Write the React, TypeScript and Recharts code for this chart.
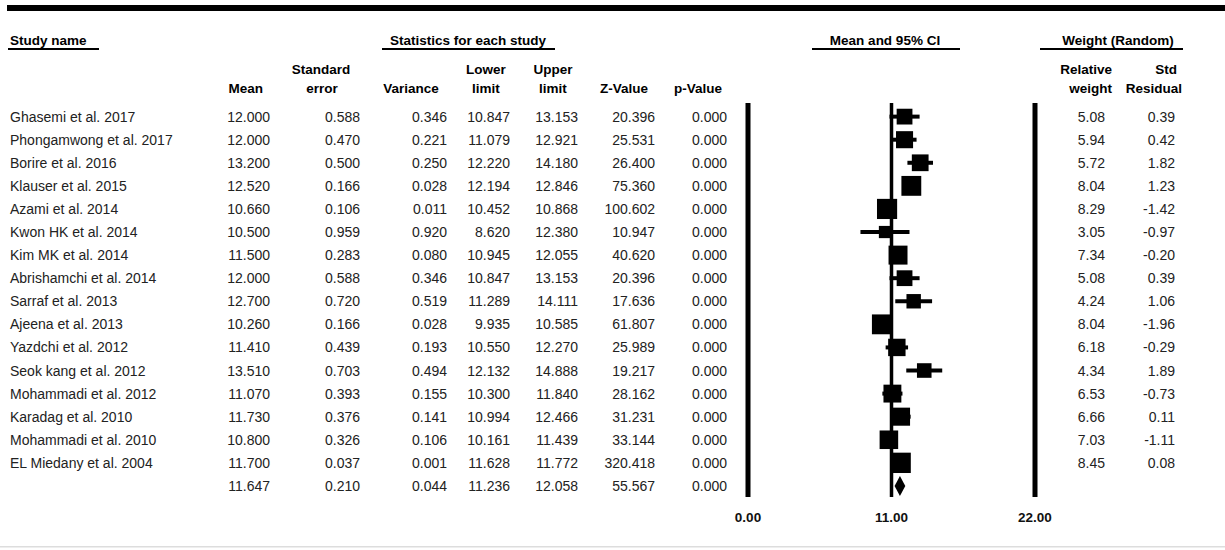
import React from 'react';
import { ComposedChart, Scatter, XAxis, YAxis, ErrorBar, ReferenceLine } from 'recharts';

const studies = [
  'Ghasemi et al. 2017',
  'Phongamwong et al. 2017',
  'Borire et al. 2016',
  'Klauser et al. 2015',
  'Azami et al. 2014',
  'Kwon HK et al. 2014',
  'Kim MK et al. 2014',
  'Abrishamchi et al. 2014',
  'Sarraf et al. 2013',
  'Ajeena et al. 2013',
  'Yazdchi et al. 2012',
  'Seok kang et al. 2012',
  'Mohammadi et al. 2012',
  'Karadag et al. 2010',
  'Mohammadi et al. 2010',
  'EL Miedany et al. 2004',
];
const means = [12.0, 12.0, 13.2, 12.52, 10.66, 10.5, 11.5, 12.0, 12.7, 10.26, 11.41, 13.51, 11.07, 11.73, 10.8, 11.7];
const stdErrors = [0.588, 0.47, 0.5, 0.166, 0.106, 0.959, 0.283, 0.588, 0.72, 0.166, 0.439, 0.703, 0.393, 0.376, 0.326, 0.037];
const variances = [0.346, 0.221, 0.25, 0.028, 0.011, 0.92, 0.08, 0.346, 0.519, 0.028, 0.193, 0.494, 0.155, 0.141, 0.106, 0.001];
const lowerLimits = [10.847, 11.079, 12.22, 12.194, 10.452, 8.62, 10.945, 10.847, 11.289, 9.935, 10.55, 12.132, 10.3, 10.994, 10.161, 11.628];
const upperLimits = [13.153, 12.921, 14.18, 12.846, 10.868, 12.38, 12.055, 13.153, 14.111, 10.585, 12.27, 14.888, 11.84, 12.466, 11.439, 11.772];
const zValues = [20.396, 25.531, 26.4, 75.36, 100.602, 10.947, 40.62, 20.396, 17.636, 61.807, 25.989, 19.217, 28.162, 31.231, 33.144, 320.418];
const pValues = [0, 0, 0, 0, 0, 0, 0, 0, 0, 0, 0, 0, 0, 0, 0, 0];
const relWeights = [5.08, 5.94, 5.72, 8.04, 8.29, 3.05, 7.34, 5.08, 4.24, 8.04, 6.18, 4.34, 6.53, 6.66, 7.03, 8.45];
const stdResiduals = [0.39, 0.42, 1.82, 1.23, -1.42, -0.97, -0.2, 0.39, 1.06, -1.96, -0.29, 1.89, -0.73, 0.11, -1.11, 0.08];

// pooled (random effects) row
const pooledMean = 11.647;
const pooledSE = 0.21;
const pooledVariance = 0.044;
const pooledLower = 11.236;
const pooledUpper = 12.058;
const pooledZ = 55.567;
const pooledP = 0;

const xTicks = [0, 11, 22];

const W = 1225;
const H = 550;
const M = { top: 103, right: 190, bottom: 23, left: 748 };
const X_DOMAIN = [0, 22];
const PX_PER_UNIT = (W - M.left - M.right) / (X_DOMAIN[1] - X_DOMAIN[0]);
const FONT = '"Liberation Sans", Arial, sans-serif';

// right edge of each number column
const colRight = { mean: 270, se: 360, variance: 447, lower: 510, upper: 578, z: 655, p: 727, weight: 1105, resid: 1175 };

const studyRows = studies.map((name, i) => ({
  name,
  row: i,
  mean: means[i],
  se: stdErrors[i],
  variance: variances[i],
  lower: lowerLimits[i],
  upper: upperLimits[i],
  z: zValues[i],
  p: pValues[i],
  weight: relWeights[i],
  resid: stdResiduals[i],
  ci: [means[i] - lowerLimits[i], upperLimits[i] - means[i]],
}));

const pooledRow = [{
  name: '',
  row: studies.length,
  mean: pooledMean,
  se: pooledSE,
  variance: pooledVariance,
  lower: pooledLower,
  upper: pooledUpper,
  z: pooledZ,
  p: pooledP,
}];

const cellStyle = { fontFamily: FONT, fontSize: 14, fill: '#222' };

function RowText({ d, cy }: { d: any; cy: number }) {
  const t = (x: number, s: string, anchor = 'end') => (
    <text x={x} y={cy} textAnchor={anchor} dominantBaseline="central" style={cellStyle}>{s}</text>
  );
  return (
    <g>
      {d.name && t(10, d.name, 'start')}
      {t(colRight.mean, d.mean.toFixed(3))}
      {t(colRight.se, d.se.toFixed(3))}
      {t(colRight.variance, d.variance.toFixed(3))}
      {t(colRight.lower, d.lower.toFixed(3))}
      {t(colRight.upper, d.upper.toFixed(3))}
      {t(colRight.z, d.z.toFixed(3))}
      {t(colRight.p, d.p.toFixed(3))}
      {d.weight !== undefined && t(colRight.weight, d.weight.toFixed(2))}
      {d.resid !== undefined && t(colRight.resid, d.resid.toFixed(2))}
    </g>
  );
}

function StudyShape(props: any) {
  const { cx, cy, payload } = props;
  const side = 7 * Math.sqrt(payload.weight);
  return (
    <g>
      <rect x={cx - side / 2} y={cy - side / 2} width={side} height={side} fill="#000" />
      <RowText d={payload} cy={cy} />
    </g>
  );
}

function PooledShape(props: any) {
  const { cx, cy, payload } = props;
  const l = cx - (payload.mean - payload.lower) * PX_PER_UNIT;
  const r = cx + (payload.upper - payload.mean) * PX_PER_UNIT;
  const h = 10;
  return (
    <g>
      <polygon points={`${l},${cy} ${cx},${cy - h} ${r},${cy} ${cx},${cy + h}`} fill="#000" />
      <RowText d={payload} cy={cy} />
    </g>
  );
}

function AxisTick(props: any) {
  const { x, y, payload } = props;
  return (
    <text x={x} y={y + 12} textAnchor="middle" dominantBaseline="central"
      style={{ fontFamily: FONT, fontSize: 13.5, fontWeight: 'bold', fill: '#111' }}>
      {Number(payload.value).toFixed(2)}
    </text>
  );
}

const hStyle = { fontFamily: FONT, fontSize: 13.5, fontWeight: 'bold' as const, fill: '#000' };

function Headers() {
  const h = (x: number, y: number, s: string, anchor = 'middle') => (
    <text x={x} y={y} textAnchor={anchor} dominantBaseline="central" style={hStyle}>{s}</text>
  );
  return (
    <svg width={W} height={H} style={{ position: 'absolute', left: 0, top: 0, pointerEvents: 'none' }}>
      <rect x={7} y={5} width={W - 7} height={6} fill="#000" />
      {h(10, 40, 'Study name', 'start')}
      <rect x={8} y={48} width={91} height={2} fill="#000" />
      {h(468, 40, 'Statistics for each study')}
      <rect x={382} y={48} width={173} height={2} fill="#000" />
      {h(885, 40, 'Mean and 95% CI')}
      <rect x={812} y={48} width={148} height={2} fill="#000" />
      {h(1118, 40, 'Weight (Random)')}
      <rect x={1040} y={48} width={143} height={2} fill="#000" />
      {h(263, 88, 'Mean', 'end')}
      {h(321, 69, 'Standard')}
      {h(322, 88, 'error')}
      {h(411, 88, 'Variance')}
      {h(486, 69, 'Lower')}
      {h(486, 88, 'limit')}
      {h(553, 69, 'Upper')}
      {h(553, 88, 'limit')}
      {h(624, 88, 'Z-Value')}
      {h(698, 88, 'p-Value')}
      {h(1112, 69, 'Relative', 'end')}
      {h(1112, 88, 'weight', 'end')}
      {h(1166, 69, 'Std')}
      {h(1182, 88, 'Residual', 'end')}
      <rect x={0} y={546} width={W} height={1.5} fill="#ddd" />
    </svg>
  );
}

export default function App() {
  return (
    <div style={{ position: 'absolute', left: 0, top: 0, width: W, height: H, background: '#fff' }}>
      <ComposedChart width={W} height={H} margin={M}>
        <XAxis type="number" dataKey="mean" domain={X_DOMAIN} ticks={xTicks} axisLine={false}
          tickLine={false} height={30} tick={<AxisTick />} interval={0} />
        <YAxis type="number" dataKey="row" domain={[-0.59, 16.48]} reversed hide />
        <ReferenceLine x={0} stroke="#000" strokeWidth={5} />
        <ReferenceLine x={11} stroke="#000" strokeWidth={3.5} />
        <ReferenceLine x={22} stroke="#000" strokeWidth={5} />
        <Scatter data={studyRows} shape={<StudyShape />} isAnimationActive={false}>
          <ErrorBar dataKey="ci" direction="x" width={0} strokeWidth={4} stroke="#000" isAnimationActive={false} />
        </Scatter>
        <Scatter data={pooledRow} shape={<PooledShape />} isAnimationActive={false} />
      </ComposedChart>
      <Headers />
    </div>
  );
}
